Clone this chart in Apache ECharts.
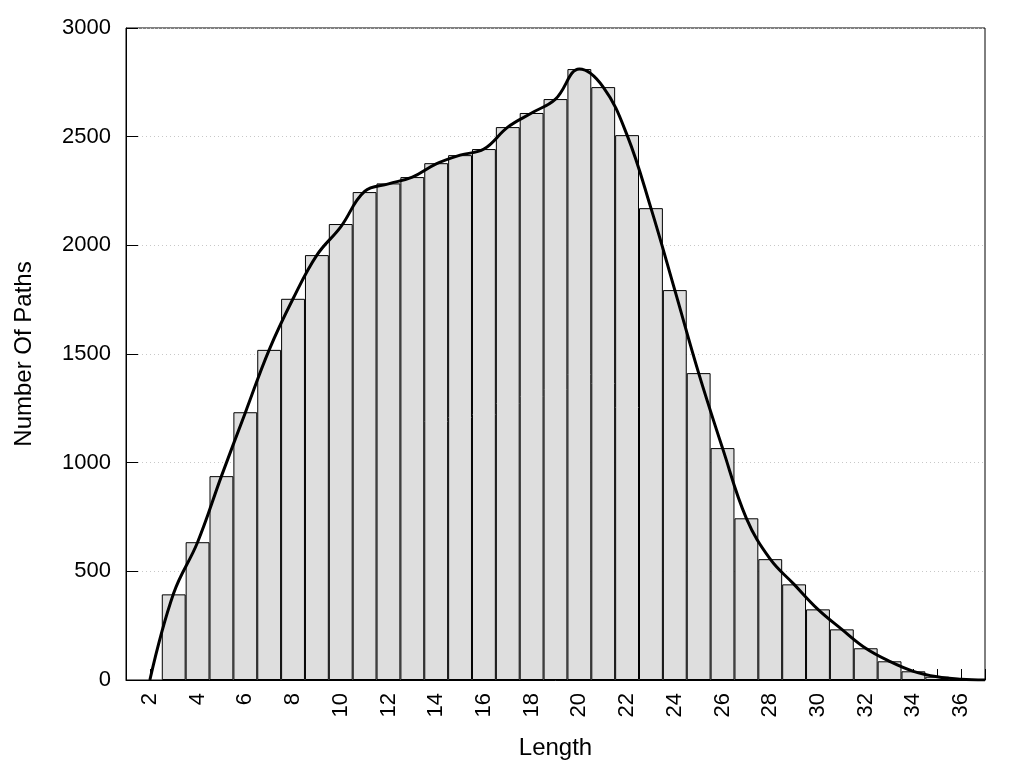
<!DOCTYPE html>
<html>
<head>
<meta charset="utf-8">
<script src="https://cdn.jsdelivr.net/npm/echarts@6/dist/echarts.min.js"></script>
<style>
html,body{margin:0;padding:0;background:#fff;}
#chart{width:1024px;height:768px;}
</style>
</head>
<body>
<div id="chart"></div>
<script>
// Histogram: path length -> number of paths
var lengths = [3,4,5,6,7,8,9,10,11,12,13,14,15,16,17,18,19,20,21,22,23,24,25,26,27,28,29,30,31,32,33,34,35,36];
var counts  = [394,634,938,1232,1519,1754,1955,2098,2245,2285,2314,2378,2415,2443,2544,2609,2673,2811,2728,2507,2171,1794,1412,1067,744,556,440,325,233,146,86,40,15,4];

// Smoothed density curve
var curveX = [2,3,4,5,6,7,8,9,10,11,12,13,14,15,16,17,18,19,20,21,22,23,24,25,26,27,28,29,30,31,32,33,34,35,36,37];
var curveY = [0,400,634,938,1230,1519,1754,1955,2085,2248,2283,2314,2375,2415,2443,2544,2609,2673,2811,2728,2507,2171,1794,1412,1067,744,556,440,325,233,146,86,40,15,4,0];

var xTickLabels = [2,4,6,8,10,12,14,16,18,20,22,24,26,28,30,32,34,36];
var yTickLabels = [0,500,1000,1500,2000,2500,3000];

var X_MIN = 1, X_MAX = 37;
var GRID_LEFT = 126, GRID_RIGHT = 39, GRID_TOP = 28, GRID_BOTTOM = 88;
var plotWidth = 1024 - GRID_LEFT - GRID_RIGHT;
var unitPx = plotWidth / (X_MAX - X_MIN);

var font = 'Liberation Sans, Arial, sans-serif';
var chart = echarts.init(document.getElementById('chart'), null, {renderer: 'canvas'});

chart.setOption({
  animation: false,
  backgroundColor: '#fff',
  grid: {
    left: GRID_LEFT, right: GRID_RIGHT, top: GRID_TOP, bottom: GRID_BOTTOM,
    show: true, borderColor: '#000', borderWidth: 1, backgroundColor: 'transparent'
  },
  xAxis: {
    type: 'value',
    min: X_MIN, max: X_MAX, interval: 1,
    name: 'Length', nameLocation: 'middle', nameGap: 56,
    nameTextStyle: {fontSize: 24, color: '#000', fontFamily: font},
    axisLine: {show: true, lineStyle: {color: '#000', width: 1}},
    axisTick: {show: true, inside: true, length: 11, lineStyle: {color: '#000', width: 1}},
    axisLabel: {
      show: true, rotate: 90, margin: 13, fontSize: 22, color: '#000', fontFamily: font,
      customValues: xTickLabels,
      formatter: function (v) { return String(v); }
    },
    splitLine: {show: false}
  },
  yAxis: {
    type: 'value',
    min: 0, max: 3000, interval: 500,
    name: 'Number Of Paths', nameLocation: 'middle', nameGap: 90,
    nameTextStyle: {fontSize: 24, color: '#000', fontFamily: font},
    axisLine: {show: true, lineStyle: {color: '#000', width: 1}},
    axisTick: {show: true, inside: true, length: 12, lineStyle: {color: '#000', width: 1}},
    axisLabel: {
      show: true, margin: 15, fontSize: 22, color: '#000', fontFamily: font,
      customValues: yTickLabels,
      formatter: function (v) { return String(v); }
    },
    splitLine: {show: true, lineStyle: {color: '#c8c8c8', width: 1, type: [1, 3]}}
  },
  series: [
    {
      type: 'bar',
      data: lengths.map(function (x, i) { return [x, counts[i]]; }),
      barWidth: unitPx,
      itemStyle: {color: '#dedede', borderColor: '#000', borderWidth: 1},
      z: 2
    },
    {
      type: 'line',
      data: curveX.map(function (x, i) { return [x, curveY[i]]; }),
      smooth: 0.4,
      showSymbol: false,
      lineStyle: {color: '#000', width: 3},
      z: 5
    }
  ]
});
</script>
</body>
</html>
